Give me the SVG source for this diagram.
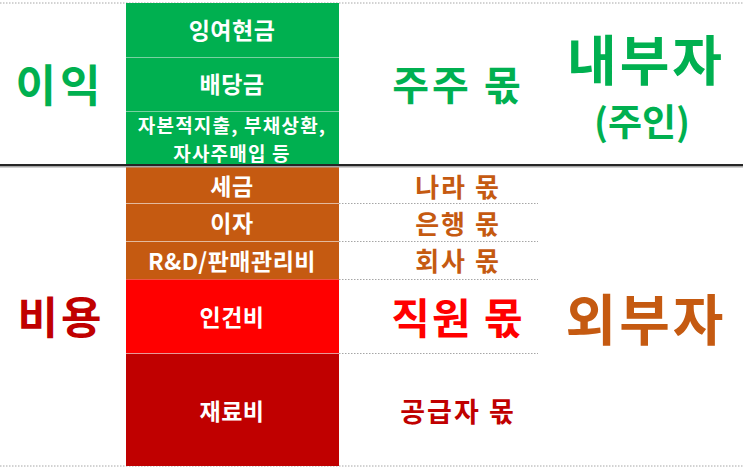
<svg xmlns="http://www.w3.org/2000/svg" width="743" height="472" viewBox="0 0 743 472">
<style>
text{font-family:"Noto Sans CJK KR","Noto Sans",sans-serif;font-weight:700;text-anchor:middle;dominant-baseline:central}
.cell{fill:#FFFFFF;font-size:23px;letter-spacing:0.5px}
.cell2{fill:#FFFFFF;font-size:19px;letter-spacing:1.2px}
.sep{stroke:#F2F2F2;stroke-opacity:0.5;stroke-width:1.2}
.dot{stroke:#A6A6A6;stroke-width:1;stroke-dasharray:1.5 1.5;fill:none}
.g{fill:#00B050}.o{fill:#C55A11}.r{fill:#FF0000}.dr{fill:#C00000}
</style>
<rect width="743" height="472" fill="#FFFFFF"/>
<g id="lines">
<line class="dot" x1="0" y1="3" x2="743" y2="3"/>
<line class="dot" x1="0" y1="466" x2="743" y2="466"/>
<line class="dot" x1="339" y1="203.5" x2="538" y2="203.5"/>
<line class="dot" x1="339" y1="241.5" x2="538" y2="241.5"/>
<line class="dot" x1="339" y1="279.5" x2="538" y2="279.5"/>
<line class="dot" x1="339" y1="353.5" x2="538" y2="353.5"/>
</g>
<g id="profit-col">
<rect x="126" y="3" width="213" height="162" fill="#00B050"/>
<line class="sep" x1="126" y1="57.5" x2="339" y2="57.5"/>
<line class="sep" x1="126" y1="111.5" x2="339" y2="111.5"/>
</g>
<g id="n-surplus"><text class="cell" x="232" y="29">잉여현금</text></g>
<g id="n-dividend"><text class="cell" x="232" y="83">배당금</text></g>
<g id="n-capex"><text class="cell2" x="232" y="124.5">자본적지출, 부채상환,</text><text class="cell2" x="232" y="152.5">자사주매입 등</text></g>
<g id="n-tax"><rect x="126" y="166" width="213" height="37.5" fill="#C55A11"/><text class="cell" x="232" y="184.5">세금</text></g>
<g id="n-interest"><rect x="126" y="203.5" width="213" height="38" fill="#C55A11"/><line class="sep" x1="126" y1="203.5" x2="339" y2="203.5"/><text class="cell" x="232" y="222">이자</text></g>
<g id="n-rnd"><rect x="126" y="241.5" width="213" height="38" fill="#C55A11"/><line class="sep" x1="126" y1="241.5" x2="339" y2="241.5"/><text class="cell" x="232" y="260">R&amp;D/판매관리비</text></g>
<g id="n-labor"><rect x="126" y="279.5" width="213" height="74" fill="#FF0000"/><text class="cell" x="232" y="316">인건비</text></g>
<g id="n-material"><rect x="126" y="353.5" width="213" height="112.5" fill="#C00000"/><line class="sep" x1="126" y1="353.5" x2="339" y2="353.5"/><text class="cell" x="232" y="410">재료비</text></g>
<g id="divider">
<line x1="0" y1="166.5" x2="743" y2="166.5" stroke="#A6A6A6" stroke-width="2"/>
<line x1="0" y1="165" x2="743" y2="165" stroke="#262626" stroke-width="2"/>
</g>
<g id="n-profit"><text class="g" x="60" y="83" font-size="44" letter-spacing="4">이익</text></g>
<g id="n-cost"><text class="dr" x="61" y="315" font-size="44" letter-spacing="3">비용</text></g>
<g id="n-insider"><text class="g" x="646" y="57" font-size="54" letter-spacing="3">내부자</text><text class="g" x="642" y="120" font-size="37">(주인)</text></g>
<g id="n-outsider"><text class="o" x="646" y="316" font-size="55" letter-spacing="3">외부자</text></g>
<g id="n-shareholder"><text class="g" x="458" y="83" font-size="40" letter-spacing="3">주주 몫</text></g>
<g id="n-state"><text class="o" x="458" y="185" font-size="26" letter-spacing="2">나라 몫</text></g>
<g id="n-bank"><text class="o" x="458" y="222" font-size="26" letter-spacing="2">은행 몫</text></g>
<g id="n-company"><text class="o" x="458" y="259" font-size="26" letter-spacing="2">회사 몫</text></g>
<g id="n-employee"><text class="r" x="458" y="315" font-size="42" letter-spacing="2">직원 몫</text></g>
<g id="n-supplier"><text class="dr" x="458" y="410" font-size="27" letter-spacing="2">공급자 몫</text></g>
</svg>
